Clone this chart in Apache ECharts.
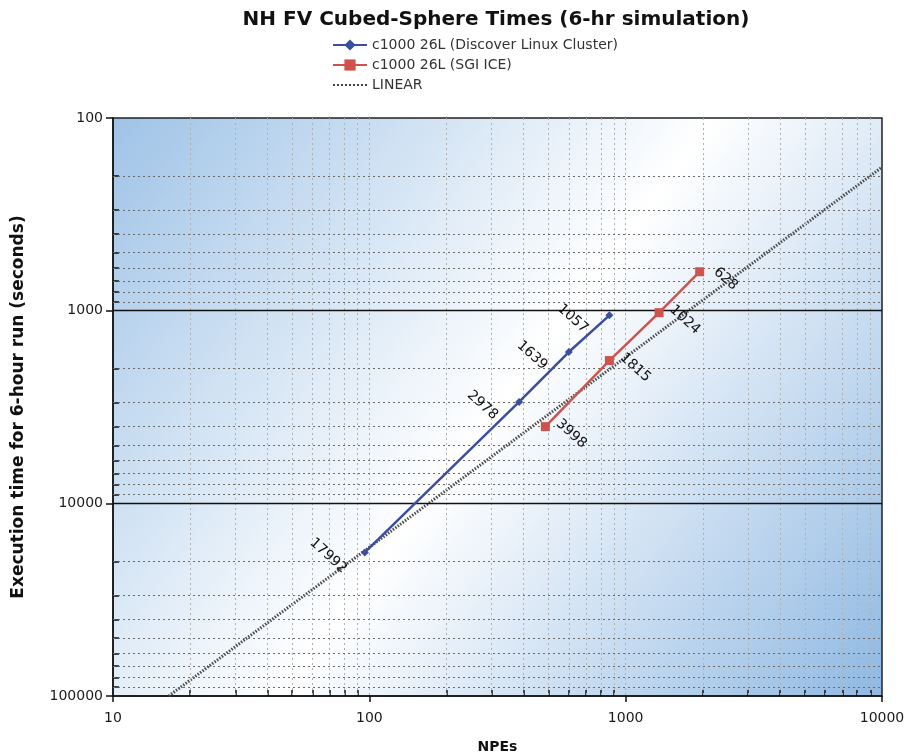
<!DOCTYPE html>
<html>
<head>
<meta charset="utf-8">
<script src="https://cdn.jsdelivr.net/npm/echarts@6/dist/echarts.min.js"></script>
<style>html,body{margin:0;padding:0;background:#fff}#c{width:913px;height:755px}</style>
</head>
<body>
<div id="c"></div>
<script>
// ---- data ----
const discoverNPEs = [96, 384, 600, 864];
const discoverTimes = [17992, 2978, 1639, 1057];
const iceNPEs = [486, 864, 1350, 1944];
const iceTimes = [3998, 1815, 1024, 628];
const linearNPEs = [16.5, 10000];
const linearTimes = [100000, 180];
const xMajorTicks = [10, 100, 1000, 10000];
const yMajorTicks = [100, 1000, 10000, 100000];
const minorMultipliers = [2, 3, 4, 5, 6, 7, 8, 9];

function minorsOf(majors) {
  const out = [];
  for (let i = 0; i < majors.length - 1; i++) {
    minorMultipliers.forEach(m => out.push(majors[i] * m));
  }
  return out;
}
const xMinor = minorsOf(xMajorTicks);
const yMinor = minorsOf(yMajorTicks);

const font = '"DejaVu Sans", Verdana, sans-serif';
const chart = echarts.init(document.getElementById('c'));

const gridLines = [];
xMinor.concat([100, 1000]).forEach(v => gridLines.push({xAxis: v, lineStyle: {color: '#b0b0b0', type: [2, 3], width: 1}}));
yMinor.forEach(v => gridLines.push({yAxis: v, lineStyle: {color: '#6a6a6a', type: [2, 3], width: 1}}));
[1000, 10000].forEach(v => gridLines.push({yAxis: v, lineStyle: {color: '#111', type: 'solid', width: 1.3}}));

const labelFmt = p => String(p.value[1]);
const dottedIcon = 'path://' + [0, 4, 8, 12, 16, 20, 24, 28, 32].map(x => 'M' + x + ',0h2v2h-2z').join('');

chart.setOption({
  animation: false,
  title: {
    text: 'NH FV Cubed-Sphere Times (6-hr simulation)',
    left: 491, top: 5, textAlign: 'center',
    textStyle: {fontFamily: font, fontSize: 20, fontWeight: 'bold', color: '#111'}
  },
  legend: {
    data: ['c1000 26L (Discover Linux Cluster)', 'c1000 26L (SGI ICE)', {name: 'LINEAR', icon: dottedIcon, itemStyle: {color: '#444'}}],
    orient: 'vertical', left: 327, top: 33, itemGap: 6, itemWidth: 34, itemHeight: 14,
    textStyle: {fontFamily: font, fontSize: 14, color: '#333'}
  },
  grid: {
    left: 113, right: 31, top: 118, bottom: 59,
    outerBoundsMode: 'none',
    show: true, borderColor: '#222', borderWidth: 1.5,
    backgroundColor: {
      type: 'linear', x: 0, y: 0, x2: 1, y2: 1,
      colorStops: [
        {offset: 0, color: '#9fc3e7'},
        {offset: 0.5, color: '#ffffff'},
        {offset: 1, color: '#8fb8e2'}
      ]
    }
  },
  xAxis: [{
    type: 'log', logBase: 10, min: 10, max: 10000,
    name: 'NPEs', nameLocation: 'middle', nameGap: 44,
    nameTextStyle: {fontFamily: font, fontSize: 14, fontWeight: 'bold', color: '#111'},
    axisLine: {lineStyle: {color: '#111', width: 1.5}},
    axisTick: {show: true, inside: true, length: 6, customValues: xMinor, lineStyle: {color: '#111', width: 1.5}},
    axisLabel: {customValues: xMajorTicks, margin: 15, fontFamily: font, fontSize: 14, color: '#1a1a1a', formatter: v => String(Math.round(v))},
    splitLine: {show: false}
  }, {
    type: 'log', logBase: 10, min: 10, max: 10000, position: 'bottom',
    axisLine: {show: false},
    axisTick: {show: true, inside: false, length: 6, customValues: xMajorTicks, lineStyle: {color: '#111', width: 1.5}},
    axisLabel: {show: false}, splitLine: {show: false}
  }],
  yAxis: [{
    type: 'log', logBase: 10, min: 100, max: 100000, inverse: true,
    name: 'Execution time for 6-hour run (seconds)', nameLocation: 'middle', nameGap: 86,
    nameTextStyle: {fontFamily: font, fontSize: 17, fontWeight: 'bold', color: '#111'},
    axisLine: {show: true, lineStyle: {color: '#111', width: 1.5}},
    axisTick: {show: true, inside: true, length: 6, customValues: yMinor, lineStyle: {color: '#111', width: 1.5}},
    axisLabel: {customValues: yMajorTicks, margin: 10, fontFamily: font, fontSize: 14, color: '#1a1a1a', formatter: v => String(Math.round(v))},
    splitLine: {show: false}
  }, {
    type: 'log', logBase: 10, min: 100, max: 100000, inverse: true, position: 'left',
    axisLine: {show: false},
    axisTick: {show: true, inside: false, length: 7, customValues: yMajorTicks, lineStyle: {color: '#111', width: 1.5}},
    axisLabel: {show: false}, splitLine: {show: false}
  }],
  series: [
    {
      name: '_grid', type: 'line', data: [[10, 100]], symbol: 'none', silent: true,
      lineStyle: {opacity: 0}, z: 1,
      markLine: {silent: true, symbol: 'none', label: {show: false}, animation: false, data: gridLines}
    },
    {
      name: 'LINEAR', type: 'line', z: 3,
      data: linearNPEs.map((x, i) => [x, linearTimes[i]]),
      symbol: 'none', lineStyle: {color: '#4a4a4a', width: 3, type: [1.5, 1.5]},
      itemStyle: {color: '#4a4a4a'}
    },
    {
      name: 'c1000 26L (Discover Linux Cluster)', type: 'line', z: 5,
      data: discoverNPEs.map((x, i) => [x, discoverTimes[i]]),
      symbol: 'diamond', symbolSize: 8,
      lineStyle: {color: '#3b4fa0', width: 2.5}, itemStyle: {color: '#3b4fa0'},
      label: {show: true, position: 'inside', rotate: -42, align: 'center', verticalAlign: 'middle',
        offset: [-25, 27], formatter: labelFmt, fontFamily: font, fontSize: 14, color: '#111'}
    },
    {
      name: 'c1000 26L (SGI ICE)', type: 'line', z: 5,
      data: iceNPEs.map((x, i) => [x, iceTimes[i]]),
      symbol: 'rect', symbolSize: 9,
      lineStyle: {color: '#d0524c', width: 2.5}, itemStyle: {color: '#d0524c'},
      label: {show: true, position: 'inside', rotate: -42, align: 'center', verticalAlign: 'middle',
        offset: [24, -12], formatter: labelFmt, fontFamily: font, fontSize: 14, color: '#111'}
    }
  ]
});
</script>
</body>
</html>
